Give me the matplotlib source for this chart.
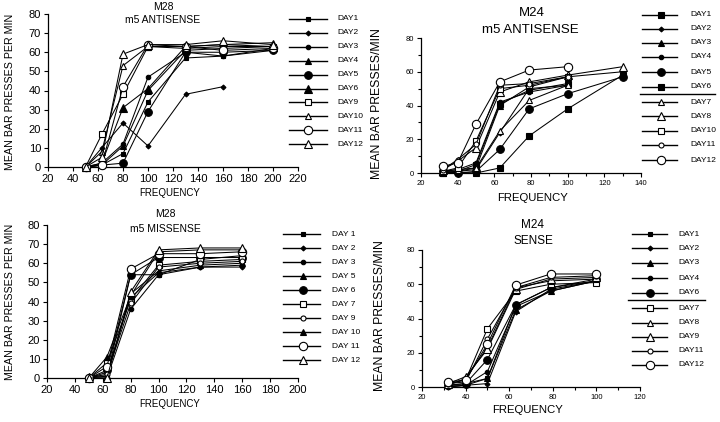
import numpy as np
import matplotlib
matplotlib.use("Agg")
import matplotlib.pyplot as plt
from matplotlib.ticker import MultipleLocator

plt.rcParams['font.family'] = ['Liberation Sans', 'DejaVu Sans']

nan = np.nan

# --- M28 m5 ANTISENSE (top left) ---
freq_a = [50, 63, 80, 100, 130, 160, 200]
days_a = ["DAY1", "DAY2", "DAY3", "DAY4", "DAY5", "DAY6", "DAY9", "DAY10", "DAY11", "DAY12"]
vals_a = [
    [0, 1, 7, 34, 57, 58, 61],
    [0, 10, 23, 11, 38, 42, nan],
    [0, 2, 12, 47, 60, 58, 62],
    [0, 1, 11, 40, 61, 62, 63],
    [0, 1, 2, 29, 60, 60, 61],
    [0, 2, 31, 41, 63, 64, 63],
    [0, 17, 38, 63, 62, 63, 63],
    [0, 8, 53, 63, 63, 64, 65],
    [0, 1, 42, 64, 63, 61, 62],
    [0, 5, 59, 64, 64, 66, 64],
]

# --- M24 m5 ANTISENSE (top right) ---
freq_b = [32, 40, 50, 63, 79, 100, 130]
days_b = ["DAY1", "DAY2", "DAY3", "DAY4", "DAY5", "DAY6", "DAY7", "DAY8", "DAY10", "DAY11", "DAY12"]
vals_b = [
    [0, 0.5, 0, 3, 22, 38, 58],
    [0, 1, 2, 24, 50, 52, nan],
    [0, 1, 3, 40, 51, 57, 60],
    [1, 2, 6, 42, 48, 52, nan],
    [1, 0, 1, 14, 38, 47, 57],
    [1, 1, 5, 41, 49, 53, nan],
    [1, 2, 3, 25, 43, 52, nan],
    [2, 7, 15, 48, 54, 58, 63],
    [1, 3, 19, 50, 52, 57, nan],
    [2, 8, 17, 52, 53, 57, nan],
    [4, 6, 29, 54, 61, 63, nan],
]

# --- M28 m5 MISSENSE (bottom left) ---
freq_c = [50, 63, 80, 100, 130, 160]
days_c = ["DAY 1", "DAY 2", "DAY 3", "DAY 5", "DAY 6", "DAY 7", "DAY 9", "DAY 10", "DAY 11", "DAY 12"]
vals_c = [
    [0, 1, 54, 54, 62, 64],
    [0, 3, 42, 55, 58, 58],
    [0, 0, 36, 54, 58, 59],
    [1, 1, 44, 56, 59, 60],
    [0, 4, 54, 63, 63, 63],
    [0, 8, 41, 59, 61, 62],
    [0, 2, 39, 58, 60, 61],
    [0, 11, 43, 66, 67, 67],
    [0, 6, 57, 65, 65, 66],
    [0, 0, 45, 67, 68, 68],
]

# --- M24 SENSE (bottom right) ---
freq_d = [32, 40, 50, 63, 79, 100]
days_d = ["DAY1", "DAY2", "DAY3", "DAY4", "DAY6", "DAY7", "DAY8", "DAY9", "DAY11", "DAY12"]
vals_d = [
    [1, 1, 5, 48, 58, 62],
    [0, 1, 2, 44, 57, 62],
    [1, 2, 5, 45, 56, 62],
    [0, 1, 9, 47, 56, 62],
    [1, 2, 16, 48, 58, 63],
    [2, 4, 34, 56, 60, 61],
    [1, 5, 23, 58, 62, 63],
    [2, 6, 22, 57, 63, 64],
    [2, 3, 28, 58, 64, 65],
    [3, 4, 25, 59.5, 66, 66],
]

# marker styles: (marker, size, face)
MARK = {
    'sq': ('s', 3.5, 'k'), 'SQ': ('s', 5, 'k'), 'dm': ('D', 2.5, 'k'),
    'ci': ('o', 3.2, 'k'), 'tr': ('^', 3.8, 'k'), 'CI': ('o', 5.5, 'k'),
    'TR': ('^', 6, 'k'), 'osq': ('s', 4, 'w'), 'otr': ('^', 4, 'w'),
    'oci': ('o', 3.6, 'w'), 'OCI': ('o', 6, 'w'), 'OTR': ('^', 6, 'w'),
}
sty_a = ['sq', 'dm', 'ci', 'tr', 'CI', 'TR', 'osq', 'otr', 'OCI', 'OTR']
sty_b = ['SQ', 'dm', 'tr', 'ci', 'CI', 'SQ', 'otr', 'OTR', 'osq', 'oci', 'OCI']
sty_c = ['sq', 'dm', 'ci', 'tr', 'CI', 'osq', 'oci', 'tr', 'OCI', 'OTR']
sty_d = ['sq', 'dm', 'tr', 'ci', 'CI', 'osq', 'otr', 'OTR', 'oci', 'OCI']

W, H = 720, 422
fig = plt.figure(figsize=(W / 100, H / 100), dpi=100)


def panel(l, t, r, b):
    return fig.add_axes([l / W, 1 - b / H, (r - l) / W, (b - t) / H])


def draw(ax, freq, vals, sty, xlim, ystep, xminor=None, yminor=None, fs=8):
    for v, s in zip(vals, sty):
        m, ms, fc = MARK[s]
        ax.plot(freq, v, color='k', lw=0.75, marker=m, ms=ms, mfc=fc,
                mec='k', mew=0.8, clip_on=False, zorder=3)
    ax.set_xlim(*xlim)
    ax.set_ylim(0, 80)
    ax.xaxis.set_major_locator(MultipleLocator(20))
    ax.yaxis.set_major_locator(MultipleLocator(ystep))
    if xminor:
        ax.xaxis.set_minor_locator(MultipleLocator(xminor))
    if yminor:
        ax.yaxis.set_minor_locator(MultipleLocator(yminor))
    for s in ['top', 'right']:
        ax.spines[s].set_visible(False)
    for s in ['left', 'bottom']:
        ax.spines[s].set_linewidth(0.9)
    ax.tick_params(which='both', direction='out', length=3, width=0.8, labelsize=fs, pad=2)
    ax.tick_params(which='minor', length=2)
    ax.patch.set_visible(False)


ax1 = panel(48, 14, 298, 167)
draw(ax1, freq_a, vals_a, sty_a, (20, 220), 10, fs=8)
ax2 = panel(421, 38, 641, 173)
draw(ax2, freq_b, vals_b, sty_b, (20, 140), 20, xminor=10, yminor=10, fs=5.5)
ax3 = panel(47, 225, 298, 378)
draw(ax3, freq_c, vals_c, sty_c, (20, 200), 10, fs=8)
ax4 = panel(422, 250, 640, 387)
draw(ax4, freq_d, vals_d, sty_d, (20, 120), 20, xminor=10, yminor=10, fs=5.5)

# overlay in pixel coords for legends and labels
ov = fig.add_axes([0, 0, 1, 1])
ov.set_xlim(0, W)
ov.set_ylim(H, 0)
ov.axis('off')
ov.patch.set_visible(False)


def legend(days, sty, x0, x1, xm, xt, rows, fs, sep=None):
    for d, s, y in zip(days, sty, rows):
        m, ms, fc = MARK[s]
        ov.plot([x0, x1], [y, y], color='k', lw=1.0)
        ov.plot([xm], [y], marker=m, ms=ms, mfc=fc, mec='k', mew=0.8, color='k')
        ov.text(xt, y, d, fontsize=fs, va='center', ha='left')
    if sep:
        ov.plot(sep[:2], [sep[2], sep[2]], color='k', lw=1.0)


legend(days_a, sty_a, 289, 327, 308, 337, [19 + 13.9 * i for i in range(10)], 6)
legend(days_b, sty_b, 642, 677, 661, 690,
       [15, 29, 43, 57, 72, 87, 102, 116, 131, 145, 160], 6, sep=(640, 715, 93.5))
legend(days_c, sty_c, 283, 320, 303, 332, [234 + 14 * i for i in range(10)], 6)
legend(days_d, sty_d, 632, 667, 650, 678,
       [234, 248, 263, 278, 293, 308, 323, 337, 351, 365], 6, sep=(628, 705, 300))

# titles
ov.text(163, 7, "M28", fontsize=7.5, ha='center', va='center')
ov.text(163, 20, "m5 ANTISENSE", fontsize=7.5, ha='center', va='center')
ov.text(532, 13, "M24", fontsize=9.5, ha='center', va='center')
ov.text(530, 30, "m5 ANTISENSE", fontsize=9.5, ha='center', va='center')
ov.text(165, 214, "M28", fontsize=7.5, ha='center', va='center')
ov.text(165, 229, "m5 MISSENSE", fontsize=7.5, ha='center', va='center')
ov.text(533, 225, "M24", fontsize=8.5, ha='center', va='center')
ov.text(533, 241, "SENSE", fontsize=8.5, ha='center', va='center')

# axis labels
ov.text(10, 92, "MEAN BAR PRESSES PER MIN", fontsize=7.7, rotation=90, ha='center', va='center')
ov.text(377, 104, "MEAN BAR PRESSES/MIN", fontsize=8.8, rotation=90, ha='center', va='center')
ov.text(10, 302, "MEAN BAR PRESSES PER MIN", fontsize=7.7, rotation=90, ha='center', va='center')
ov.text(380, 316, "MEAN BAR PRESSES/MIN", fontsize=8.8, rotation=90, ha='center', va='center')
ov.text(170, 193, "FREQUENCY", fontsize=7, ha='center', va='center')
ov.text(533, 198, "FREQUENCY", fontsize=8.2, ha='center', va='center')
ov.text(170, 404, "FREQUENCY", fontsize=7, ha='center', va='center')
ov.text(528, 410, "FREQUENCY", fontsize=8.2, ha='center', va='center')

fig.savefig("out.png", dpi=100)
plt.close(fig)
